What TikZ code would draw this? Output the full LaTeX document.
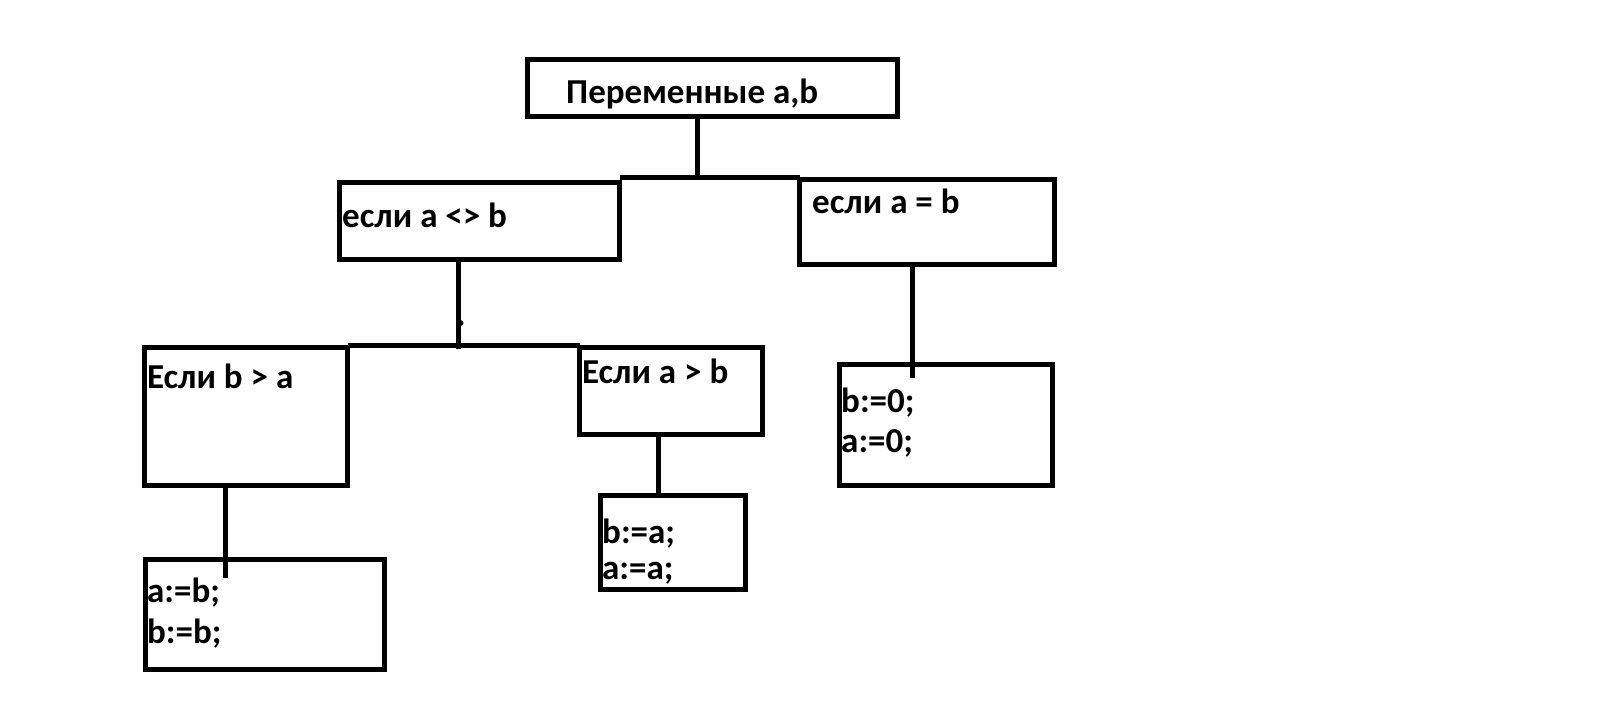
\documentclass[tikz,border=0pt]{standalone}
\usepackage{fontspec}
\setmainfont{Carlito}
\begin{document}
\begin{tikzpicture}[x=1pt,y=-1pt,
  box/.style={draw=black,line width=5pt,rectangle,inner sep=0pt,anchor=north west},
  txt/.style={inner sep=0pt,anchor=base west,font=\fontsize{35}{40}\selectfont\bfseries},
  conn/.style={draw=black,line width=5pt,line cap=rect}]
\useasboundingbox[fill=white] (0,0) rectangle (1613,716);
% boxes
\node[box,minimum width=370pt,minimum height=57pt] (top) at (525,57) {};
\node[box,minimum width=280pt,minimum height=77pt] (L1) at (337,180) {};
\node[box,minimum width=255pt,minimum height=85pt] (R1) at (797,177) {};
\node[box,minimum width=203pt,minimum height=138pt] (Lb) at (142,345) {};
\node[box,minimum width=183pt,minimum height=87pt] (La) at (577,345) {};
\node[box,minimum width=239pt,minimum height=110pt] (Lbc) at (143,557) {};
\node[box,minimum width=145pt,minimum height=94pt] (Lac) at (598,493) {};
\node[box,minimum width=213pt,minimum height=121pt] (R1c) at (837,362) {};
% texts
\node[txt] (ttop) at (566,103) {Переменные a,b};
\node[txt] (tL1) at (342,227) {если a <> b};
\node[txt] (tR1) at (812,213) {если a = b};
\node[txt] (tLb) at (147,388) {Если b > a};
\node[txt] (tLa) at (582,383) {Если a > b};
\node[txt] (tLbc1) at (147,602) {a:=b;};
\node[txt] (tLbc2) at (147,643) {b:=b;};
\node[txt] (tLac1) at (602,543) {b:=a;};
\node[txt] (tLac2) at (602,579) {a:=a;};
\node[txt] (tR1c1) at (841,412) {b:=0;};
\node[txt] (tR1c2) at (841,452) {a:=0;};
% connector coordinates
\coordinate (j1) at (697,177);
\coordinate (j2) at (458,346);
\coordinate (e3) at (225,575);
\coordinate (e4) at (658,495);
\coordinate (e5) at (912,375);
\coordinate (dot) at (460.5,323);
% connectors
\draw[conn] (j1 |- top.south) -- (j1);
\draw[conn] (L1.north east |- R1.north west) -- (R1.north west);
\draw[conn] (j2 |- L1.south) -- (j2);
\draw[conn] (Lb.north east) -- (La.north west);
\draw[conn] (e3 |- Lb.south) -- (e3);
\draw[conn] (e4 |- La.south) -- (e4);
\draw[conn] (e5 |- R1.south) -- (e5);
\fill[black] (dot) circle (3pt);
\end{tikzpicture}
\end{document}
